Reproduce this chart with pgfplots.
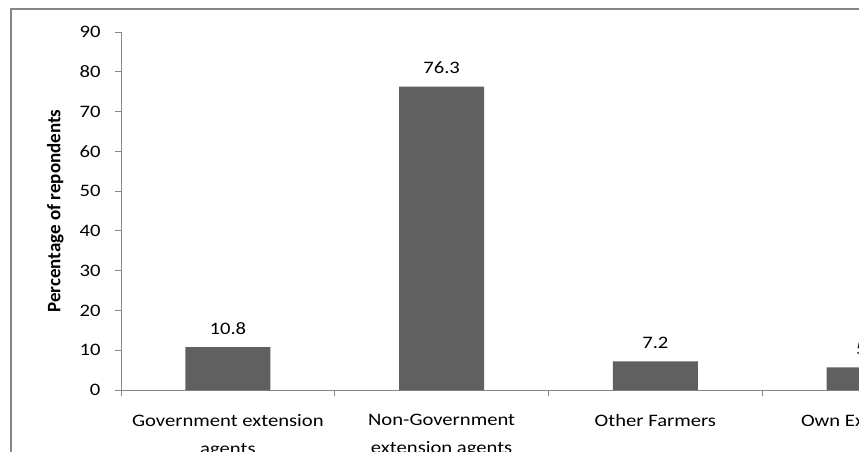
\documentclass[border=0pt]{standalone}
\usepackage{fontspec}
\setmainfont{Carlito}
\newfontfamily\tickfont{Carlito}[FakeStretch=1.18]
\usepackage{pgfplots}
\pgfplotsset{compat=1.18}
\definecolor{barcol}{RGB}{96,96,96}
\definecolor{axcol}{RGB}{134,134,134}
\newcommand{\tf}{\tickfont\fontsize{17.5}{24.5}\selectfont}
\newcommand{\xf}{\tickfont\fontsize{17.5}{28}\selectfont}
\begin{document}
\begin{tikzpicture}[x=1pt,y=1pt]
\path[use as bounding box, clip] (0,0) rectangle (859,-452);
\fill[white] (0,0) rectangle (859,-452);
\draw[axcol, line width=1.3pt] (11,-9) rectangle (1000,-600);
\begin{axis}[
  at={(121pt,-390pt)}, anchor=south west,
  scale only axis, width=855pt, height=358pt,
  xmin=-0.5, xmax=3.5, ymin=0, ymax=90,
  axis x line*=bottom, axis y line*=left,
  axis line style={axcol, line width=1pt},
  ytick={0,10,...,90},
  xtick={-0.5,0.5,1.5,2.5,3.5},
  x tick label as interval,
  xticklabels={{Government extension\\agents},{Non-Government\\extension agents},{Other Farmers},{Own Experience}},
  xticklabel style={align=center, font=\xf, yshift=-15pt},
  yticklabel style={font=\tf, xshift=-11pt},
  /pgf/number format/assume math mode=true,
  tick align=outside, major tick length=6pt,
  tick style={axcol, line width=1pt},
  ylabel={Percentage of repondents},
  ylabel shift=9pt,
  ylabel style={font=\bfseries\fontsize{19}{22}\selectfont},
  ybar, bar width=85pt,
  nodes near coords,
  every node near coord/.append style={font=\tf, yshift=9pt, /pgf/number format/assume math mode=true},
]
\addplot[fill=barcol, draw=none] coordinates {(0,10.8) (1,76.3) (2,7.2) (3,5.7)};
\end{axis}
\end{tikzpicture}
\end{document}
